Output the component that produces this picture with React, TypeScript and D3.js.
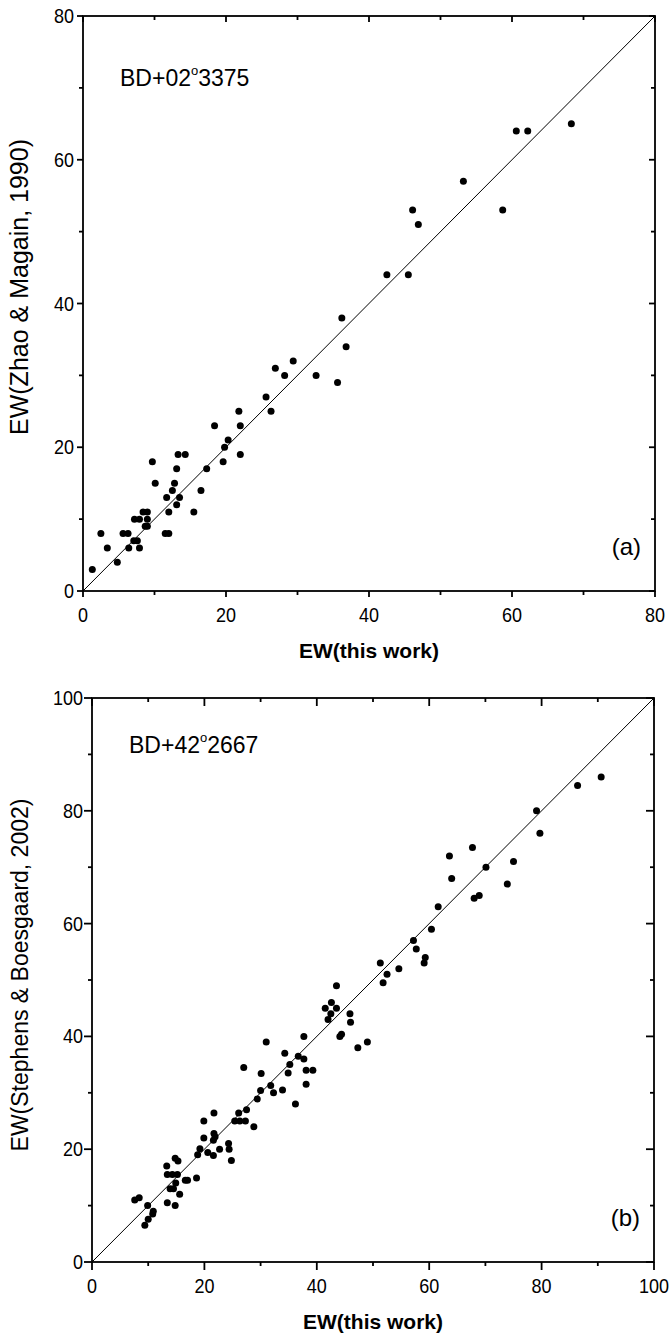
import React from "react";
import * as d3 from "d3";

// Panel (a): BD+02°3375  — EW(this work) vs EW(Zhao & Magain, 1990)
const aThisWork = [1.3, 2.5, 3.4, 4.8, 5.6, 6.3, 6.4, 7.1, 7.6, 7.9, 7.2, 7.9, 8.4, 9.0, 9.0, 8.7, 9.0, 9.7, 10.1, 11.5, 12.0, 11.7, 12.0, 12.5, 12.8, 13.1, 13.1, 13.3, 13.5, 14.3, 15.5, 16.5, 17.3, 18.4, 19.6, 19.8, 20.3, 21.8, 22.0, 22.0, 36.2, 36.8, 29.4, 26.9, 28.2, 32.6, 35.6, 25.6, 26.3, 42.5, 45.5, 46.1, 46.9, 53.2, 58.7, 60.6, 62.2, 68.3];
const aZhao = [3, 8, 6, 4, 8, 8, 6, 7, 7, 6, 10, 10, 11, 11, 10, 9, 9, 18, 15, 8, 8, 13, 11, 14, 15, 17, 12, 19, 13, 19, 11, 14, 17, 23, 18, 20, 21, 25, 23, 19, 38, 34, 32, 31, 30, 30, 29, 27, 25, 44, 44, 53, 51, 57, 53, 64, 64, 65];

// Panel (b): BD+42°2667 — EW(this work) vs EW(Stephens & Boesgaard, 2002)
const bThisWork = [31.0, 27.0, 30.1, 31.8, 32.3, 30.0, 29.4, 26.1, 27.5, 25.4, 26.3, 27.3, 28.8, 21.7, 19.9, 21.7, 21.9, 21.6, 19.9, 19.2, 20.6, 21.6, 22.7, 24.3, 24.4, 24.8, 18.8, 18.6, 16.6, 17.0, 15.6, 13.3, 14.8, 15.3, 13.4, 14.3, 15.2, 14.9, 13.9, 14.5, 13.4, 14.8, 7.6, 8.4, 9.9, 10.9, 10.8, 10.0, 9.4,
  51.3, 52.5, 51.8, 54.6, 43.5, 42.6, 41.5, 43.5, 42.5, 42.0, 45.9, 46.0, 44.1, 44.4, 47.3, 49.0, 37.7, 34.3, 36.7, 37.7, 35.2, 34.9, 38.1, 39.3, 38.1, 33.9, 36.2,
  90.6, 86.4, 79.1, 79.7, 75.0, 70.1, 73.9, 67.7, 63.6, 64.0, 68.0, 68.9, 61.6, 60.4, 57.2, 57.7, 59.3, 59.1];
const bStephens = [39, 34.5, 33.4, 31.3, 30.0, 30.4, 28.9, 26.4, 27.0, 25.0, 25.0, 25.0, 24.0, 26.4, 25.0, 22.8, 22.2, 21.6, 22.0, 20.1, 19.4, 18.9, 20.0, 21.0, 20.0, 18.0, 19.0, 14.9, 14.5, 14.5, 12.0, 17.0, 18.4, 17.9, 15.5, 15.5, 15.5, 14.0, 13.0, 13.0, 10.5, 10.0, 11.0, 11.4, 10.0, 9.0, 8.5, 7.6, 6.5,
  53, 51, 49.5, 52, 49, 46, 45, 45, 44, 43, 44, 42.5, 40, 40.4, 38, 39, 40, 37, 36.5, 36, 35, 33.5, 34, 34, 31.5, 30.5, 28,
  86, 84.5, 80, 76, 71, 70, 67, 73.5, 72, 68, 64.5, 65, 63, 59, 57, 55.5, 54, 53];

const aTicks = [0, 20, 40, 60, 80];
const aMinor = [10, 30, 50, 70];
const bTicks = [0, 20, 40, 60, 80, 100];
const bMinor = [10, 30, 50, 70, 90];

const FONT = "'Liberation Sans', Arial, sans-serif";

type PanelProps = {
  xs: number[];
  ys: number[];
  max: number;
  ticks: number[];
  minor: number[];
  left: number;
  right: number;
  top: number;
  bottom: number;
  yTitle: string;
  yTitleCenter: number;
  yTitleSize: number;
  star: [string, string];
  label: string;
  majorLen: number;
  minorLen: number;
  starY: number;
};

function Panel(p: PanelProps) {
  const x = d3.scaleLinear().domain([0, p.max]).range([p.left, p.right]);
  const y = d3.scaleLinear().domain([0, p.max]).range([p.bottom, p.top]);
  const sw = 1.8;
  const all = [...p.ticks.map((t) => ({ t, len: p.majorLen })), ...p.minor.map((t) => ({ t, len: p.minorLen }))];
  return (
    <g>
      <rect x={p.left} y={p.top} width={p.right - p.left} height={p.bottom - p.top} fill="none" stroke="#000" strokeWidth={sw} />
      {all.map(({ t, len }) => (
        <g key={"t" + t}>
          <line x1={x(t)} x2={x(t)} y1={p.bottom} y2={p.bottom + len} stroke="#000" strokeWidth={sw} />
          <line x1={x(t)} x2={x(t)} y1={p.top} y2={p.top + len} stroke="#000" strokeWidth={sw} />
          <line x1={p.left} x2={p.left - len} y1={y(t)} y2={y(t)} stroke="#000" strokeWidth={sw} />
          <line x1={p.right} x2={p.right - len} y1={y(t)} y2={y(t)} stroke="#000" strokeWidth={sw} />
        </g>
      ))}
      {p.ticks.map((t) => (
        <text key={"xl" + t} transform={`translate(${x(t)},${p.bottom + 31}) scale(0.9,1)`} textAnchor="middle" fontSize={20} fontFamily={FONT}>
          {t}
        </text>
      ))}
      {p.ticks.map((t) => (
        <text key={"yl" + t} transform={`translate(${p.left - 9},${y(t) + 7}) scale(0.9,1)`} textAnchor="end" fontSize={20} fontFamily={FONT}>
          {t}
        </text>
      ))}
      <line x1={x(0)} y1={y(0)} x2={x(p.max)} y2={y(p.max)} stroke="#000" strokeWidth={1} />
      {p.xs.map((v, i) => (
        <circle key={"c" + i} cx={x(v)} cy={y(p.ys[i])} r={3.5} fill="#000" />
      ))}
      <text x={(p.left + p.right) / 2} y={p.bottom + 67} textAnchor="middle" fontSize={21} fontWeight="bold" fontFamily={FONT}>
        EW(this work)
      </text>
      <text
        transform={`translate(28,${p.yTitleCenter}) rotate(-90)`}
        textAnchor="middle"
        fontSize={p.yTitleSize}
        fontFamily={FONT}
      >
        {p.yTitle}
      </text>
      <text x={p.left + 37} y={p.starY} fontSize={23} fontFamily={FONT}>
        {p.star[0]}
        <tspan fontSize={13} dy={-11}>o</tspan>
        <tspan dy={11}>{p.star[1]}</tspan>
      </text>
      <text x={p.right - 14} y={p.bottom - 36} textAnchor="end" fontSize={24} fontFamily={FONT}>
        {p.label}
      </text>
    </g>
  );
}

export default function App() {
  return (
    <svg width={670} height={1335} style={{ position: "absolute", left: 0, top: 0, background: "#fff" }}>
      <rect width={670} height={1335} fill="#fff" />
      <Panel
        xs={aThisWork}
        ys={aZhao}
        max={80}
        ticks={aTicks}
        minor={aMinor}
        left={83}
        right={655}
        top={16}
        bottom={591}
        yTitle="EW(Zhao & Magain, 1990)"
        yTitleCenter={287}
        yTitleSize={25}
        star={["BD+02", "3375"]}
        label="(a)"
        majorLen={6}
        minorLen={4}
        starY={86}
      />
      <Panel
        xs={bThisWork}
        ys={bStephens}
        max={100}
        ticks={bTicks}
        minor={bMinor}
        left={92}
        right={654}
        top={698}
        bottom={1262}
        yTitle="EW(Stephens & Boesgaard, 2002)"
        yTitleCenter={975}
        yTitleSize={23}
        star={["BD+42", "2667"]}
        label="(b)"
        majorLen={8}
        minorLen={4}
        starY={753}
      />
    </svg>
  );
}
